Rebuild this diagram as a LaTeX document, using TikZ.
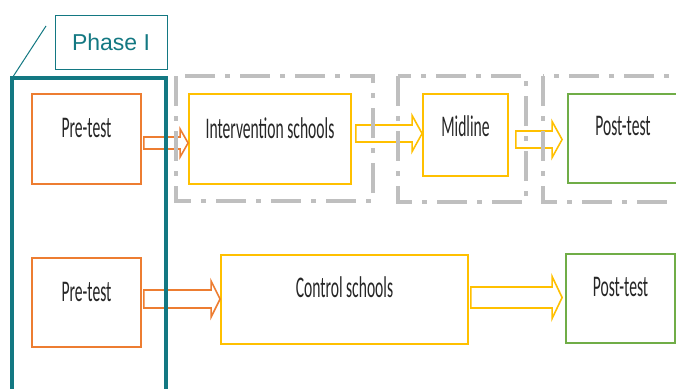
\documentclass[tikz,border=0pt]{standalone}
\usepackage{fontspec}
\usetikzlibrary{calc}
\newfontfamily\narrowfont[FakeStretch=0.52]{Carlito}
\newfontfamily\phasefont{Liberation Sans}
\definecolor{preorange}{HTML}{ED7D31}
\definecolor{schoolyellow}{HTML}{FFC000}
\definecolor{postgreen}{HTML}{70AD47}
\definecolor{phasegray}{HTML}{BFBFBF}
\definecolor{phaseteal}{HTML}{137882}
% colour, from, to, y offset, shaft half, head half, head length
\newcommand{\blockarrow}[7]{%
  \draw[draw=#1, line width=1.6pt, line join=miter, fill=white]
    let \p1=($(#2)+(2,#4)$), \p2=(#3) in
    (\x1,\y1+#5pt) -- (\x2-#7pt,\y1+#5pt) -- (\x2-#7pt,\y1+#6pt) -- (\x2,\y1)
    -- (\x2-#7pt,\y1-#6pt) -- (\x2-#7pt,\y1-#5pt) -- (\x1,\y1-#5pt) -- cycle;
}

\begin{document}
\begin{tikzpicture}[x=1pt, y=-1pt,
    stagebox/.style={draw=#1, line width=1.8pt, fill=white, inner sep=0pt},
    stagetext/.style={font=\narrowfont\fontsize{30}{30}\selectfont, text=black!85},
    groupbox/.style={draw=phasegray, line width=4pt,
      dash pattern=on 30pt off 10pt on 5pt off 10pt}]
  \useasboundingbox (0,0) rectangle (676,388);
  \clip (0,0) rectangle (676,388);

  \node[stagebox=preorange, minimum width=109, minimum height=90,
    label={[stagetext, yshift=11]center:Pre-test}] (pre1) at (86.5,139) {};
  \node[stagebox=schoolyellow, minimum width=162, minimum height=90,
    label={[stagetext, yshift=11]center:Intervention schools}] (int) at (270,139) {};
  \node[stagebox=schoolyellow, minimum width=85, minimum height=82,
    label={[stagetext, yshift=9]center:Midline}] (mid) at (465.5,135) {};
  \node[stagebox=postgreen, minimum width=112, minimum height=89,
    label={[stagetext, yshift=12.5, xshift=-1]center:Post-test}] (post1) at (624,138.5) {};

  \node[stagebox=preorange, minimum width=109, minimum height=89,
    label={[stagetext, yshift=10.5]center:Pre-test}] (pre2) at (86.5,302.5) {};
  \node[stagebox=schoolyellow, minimum width=247, minimum height=89,
    label={[stagetext, yshift=12.5]center:Control schools}] (ctrl) at (344.5,299.5) {};
  \node[stagebox=postgreen, minimum width=109, minimum height=89,
    label={[stagetext, yshift=11.5]center:Post-test}] (post2) at (620.5,298.5) {};

  \blockarrow{preorange}{pre1.east}{int.west}{4}{6}{14}{8}
  \blockarrow{schoolyellow}{$(int.east)+(2,0)$}{mid.west}{-5.5}{8.5}{18}{10}
  \blockarrow{schoolyellow}{$(mid.east)+(5,0)$}{$(post1.west)+(-5,0)$}{4.5}{8.5}{18}{10}
  \blockarrow{preorange}{pre2.east}{ctrl.west}{-3.5}{9}{18}{9}
  \blockarrow{schoolyellow}{ctrl.east}{$(post2.west)+(-3,0)$}{-2}{10.5}{21}{10}

  \draw[groupbox] (176,76) rectangle (373,201);
  \draw[groupbox] (398,76) rectangle (526,202);
  \draw[groupbox] (543,76) rectangle (720,202);

  \draw[phaseteal, line width=3.5pt] (12,78) rectangle (166,420);
  \node[draw=phaseteal, line width=1pt, minimum width=112, minimum height=54,
    font=\phasefont\fontsize{23}{23}\selectfont, text=phaseteal] (phase) at (111,42) {Phase I};
  \coordinate (callout) at (46,26);
  \draw[phaseteal, line width=1pt] (callout) -- (12.5,77.5);
\end{tikzpicture}
\end{document}
